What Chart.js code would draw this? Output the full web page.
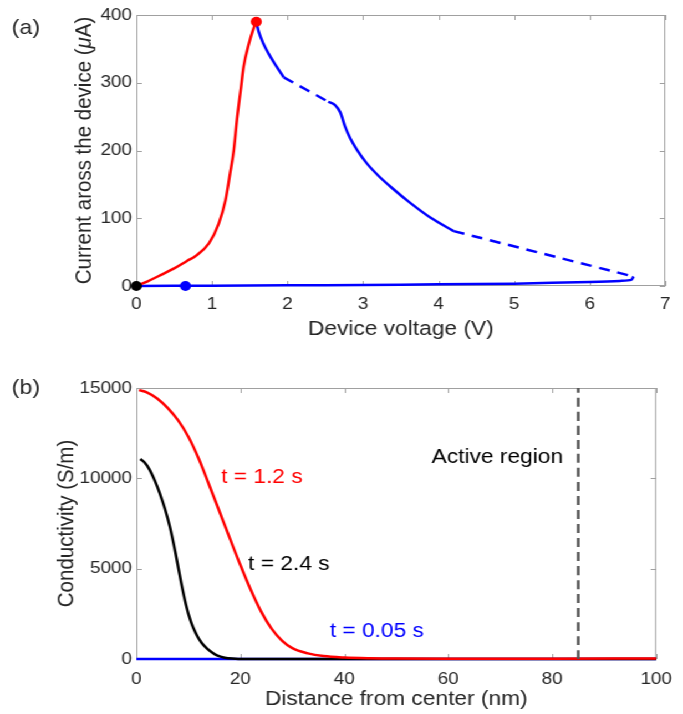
<!DOCTYPE html>
<html>
<head>
<meta charset="utf-8">
<script src="https://cdn.jsdelivr.net/npm/chart.js@4.4.1/dist/chart.umd.min.js"></script>
<style>
  html, body { margin: 0; padding: 0; background: #fff; overflow: hidden; }
  /* the original figure is a bit stretched horizontally */
  #wrap { position: absolute; left: 0; top: 0; width: 616px; height: 714px;
          transform: scaleX(1.1088); transform-origin: 0 0; }
  canvas { position: absolute; left: 0; }
  #chartA { top: 0; }
  #chartB { top: 360px; }
</style>
</head>
<body>
<div id="wrap">
  <canvas id="chartA" width="616" height="360"></canvas>
  <canvas id="chartB" width="616" height="354"></canvas>
</div>
<script>
// ---- (a) current vs voltage ----
const setV = [0, 0.15, 0.32, 0.5, 0.67, 0.78, 0.96, 1.09, 1.18, 1.24, 1.29, 1.33, 1.38, 1.42, 1.49, 1.55, 1.587];
const setI = [0, 7, 16, 26, 37, 44, 63, 92, 127, 166, 201, 245, 289, 324, 358, 380, 390];

const resetV1 = [1.587, 1.62, 1.68, 1.75, 1.82, 1.95];          // solid
const resetI1 = [390, 375, 358, 343, 330, 308];
const resetV2 = [1.95, 2.54];                                    // dashed
const resetI2 = [308, 272];
const resetV3 = [2.54, 2.63, 2.7, 2.76, 2.83, 2.92, 3.05, 3.21, 3.38, 3.62, 3.89, 4.2];  // solid
const resetI3 = [272, 267, 256, 236, 218, 201, 181, 162, 145, 123, 101, 81];
const resetV4 = [4.2, 6.58];                                     // dashed
const resetI4 = [81, 14];
const backV = [6.58, 6.55, 6.4, 6.0, 5.0, 4.0, 3.0, 2.0, 1.0, 0];  // solid, back to zero
const backI = [14, 9, 7.5, 6, 3.5, 2.5, 1.5, 1, 0.5, 0];

const markV = [1.587, 0.65, 0];
const markI = [390, 0, 0];
const markColors = ['#ff0000', '#0000ff', '#000000'];

const ticksVA = [0, 1, 2, 3, 4, 5, 6, 7];
const ticksIA = [0, 100, 200, 300, 400];

// ---- (b) conductivity profiles ----
const distRed = [0.5, 2, 4, 6, 8, 10, 12, 14, 16, 18, 20, 22, 24, 26, 28, 30, 33, 36, 40, 45, 50, 60, 80, 100];
const condRed = [14880, 14760, 14420, 13900, 13220, 12300, 11080, 9630, 8150, 6660, 5200, 3830, 2620, 1680, 1020, 600, 310, 160, 80, 40, 25, 20, 20, 25];
const distBlack = [0.75, 1.5, 2.5, 3.5, 4.5, 5.5, 6.5, 7.5, 8.5, 9.5, 10.5, 11.5, 12.5, 13.5, 14.5, 15.5, 17, 19, 20, 40, 100];
const condBlack = [11070, 10900, 10500, 9900, 9170, 8300, 7250, 5900, 4400, 3050, 2050, 1380, 910, 600, 370, 200, 70, 15, 0, 0, 0];
const distBlue = [0, 100];
const condBlue = [0, 0];
const activeEdge = 85;

const noteText = ['t = 1.2 s', 't = 2.4 s', 't = 0.05 s', 'Active region'];
const noteX = [16.3, 21.5, 37.2, 56.8];
const noteY = [9725, 4926, 1234, 10832];
const noteColors = ['#ff0000', '#000000', '#0000ff', '#000000'];

const ticksDB = [0, 20, 40, 60, 80, 100];
const ticksCB = [0, 5000, 10000, 15000];

const FONT = '"Liberation Sans", Arial, sans-serif';
const GREY = '#a0a0a0';
const TXT = '#262626';

const pts = (xs, ys) => xs.map((x, i) => ({ x: x, y: ys[i] }));

function line(xs, ys, color, dash) {
  return {
    data: pts(xs, ys), showLine: true, borderColor: color, borderWidth: 2.5,
    borderDash: dash || [], pointRadius: 0, tension: 0.25, fill: false, clip: false
  };
}
// smooth curve for series whose x keeps increasing
const smooth = ds => Object.assign(ds, { cubicInterpolationMode: 'monotone' });

// box, inward ticks, titles and panel letter
function framePlugin(o) {
  return {
    id: 'frame',
    beforeDatasetsDraw(chart) {
      const { ctx, chartArea: a, scales: { x, y } } = chart;
      ctx.save();
      ctx.strokeStyle = GREY;
      ctx.lineWidth = 1;
      ctx.strokeRect(a.left + 0.5, a.top + 0.5, a.right - a.left - 1, a.bottom - a.top - 1);
      ctx.beginPath();
      x.ticks.forEach(t => {
        const p = Math.round(x.getPixelForValue(t.value)) + 0.5;
        ctx.moveTo(p, a.bottom); ctx.lineTo(p, a.bottom - 5);
        ctx.moveTo(p, a.top); ctx.lineTo(p, a.top + 5);
      });
      y.ticks.forEach(t => {
        const p = Math.round(y.getPixelForValue(t.value)) + 0.5;
        ctx.moveTo(a.left, p); ctx.lineTo(a.left + 5, p);
        ctx.moveTo(a.right, p); ctx.lineTo(a.right - 5, p);
      });
      ctx.stroke();
      ctx.restore();
    },
    afterDraw(chart) {
      const { ctx, chartArea: a } = chart;
      ctx.save();
      ctx.fillStyle = TXT;
      ctx.textBaseline = 'alphabetic';
      ctx.textAlign = 'left';
      ctx.font = '21px ' + FONT;
      ctx.fillText(o.panel, 10.5, 33.5);

      ctx.font = '20.5px ' + FONT;
      ctx.textAlign = 'center';
      ctx.fillText(o.xTitle, (a.left + a.right) / 2, o.xTitleY);

      // y title, may contain an italic part
      ctx.translate(o.yTitleX, (a.top + a.bottom) / 2);
      ctx.rotate(-Math.PI / 2);
      ctx.textBaseline = 'middle';
      ctx.textAlign = 'left';
      const fontOf = p => (p.italic ? 'italic ' : '') + '20.5px ' + FONT;
      let total = 0;
      o.yTitle.forEach(p => { ctx.font = fontOf(p); total += ctx.measureText(p.t).width; });
      let cx = -total / 2;
      o.yTitle.forEach(p => {
        ctx.font = fontOf(p);
        ctx.fillText(p.t, cx, 0);
        cx += ctx.measureText(p.t).width;
      });
      ctx.restore();
    }
  };
}

function axes(xMin, xMax, xTicks, yMin, yMax, yTicks, xHeight, xPad) {
  const tickFont = { family: FONT, size: 17 };
  return {
    x: {
      type: 'linear', min: xMin, max: xMax,
      grid: { display: false, drawTicks: false }, border: { display: false },
      afterBuildTicks: s => { s.ticks = xTicks.map(v => ({ value: v })); },
      afterFit: s => { s.height = xHeight; },
      ticks: { font: tickFont, color: TXT, padding: xPad, maxRotation: 0, callback: v => String(v) }
    },
    y: {
      type: 'linear', min: yMin, max: yMax,
      grid: { display: false, drawTicks: false }, border: { display: false },
      afterBuildTicks: s => { s.ticks = yTicks.map(v => ({ value: v })); },
      afterFit: s => { s.width = 123; },
      ticks: { font: tickFont, color: TXT, padding: 4, callback: v => String(v) }
    }
  };
}

const common = {
  responsive: false, animation: false, devicePixelRatio: 1,
  plugins: { legend: { display: false }, tooltip: { enabled: false } }
};

// (a)
new Chart(document.getElementById('chartA'), {
  type: 'scatter',
  data: {
    datasets: [
      {
        data: pts(markV, markI), pointRadius: 5, pointBackgroundColor: markColors,
        pointBorderWidth: 0, showLine: false, clip: false
      },
      smooth(line(setV, setI, '#ff0000')),
      smooth(line(resetV1, resetI1, '#0000ff')),
      line(resetV2, resetI2, '#0000ff', [10, 7]),
      smooth(line(resetV3, resetI3, '#0000ff')),
      line(resetV4, resetI4, '#0000ff', [10, 7]),
      line(backV, backI, '#0000ff')
    ]
  },
  options: Object.assign({}, common, {
    layout: { padding: { top: 15, right: 16, left: 0, bottom: 0 } },
    scales: axes(0, 7, ticksVA, 0, 400, ticksIA, 74, 8)
  }),
  plugins: [framePlugin({
    panel: '(a)', xTitle: 'Device voltage (V)', xTitleY: 335.4, yTitleX: 76,
    yTitle: [{ t: 'Current aross the device (' }, { t: 'μ', italic: true }, { t: 'A)' }]
  })]
});

// (b)
const notesPlugin = {
  id: 'notes',
  afterDatasetsDraw(chart) {
    const { ctx, scales: { x, y } } = chart;
    ctx.save();
    ctx.font = '20.5px ' + FONT;
    ctx.textAlign = 'left';
    ctx.textBaseline = 'alphabetic';
    noteText.forEach((t, i) => {
      ctx.fillStyle = noteColors[i];
      ctx.fillText(t, x.getPixelForValue(noteX[i]), y.getPixelForValue(noteY[i]));
    });
    ctx.restore();
  }
};

new Chart(document.getElementById('chartB'), {
  type: 'scatter',
  data: {
    datasets: [
      line([activeEdge, activeEdge], [0, 15000], '#555555', [9, 5]),
      smooth(line(distRed, condRed, '#ff0000')),
      smooth(line(distBlack, condBlack, '#000000')),
      line(distBlue, condBlue, '#0000ff')
    ]
  },
  options: Object.assign({}, common, {
    layout: { padding: { top: 28, right: 16, left: 0, bottom: 0 } },
    scales: axes(0, 100, ticksDB, 0, 15000, ticksCB, 55, 10)
  }),
  plugins: [notesPlugin, framePlugin({
    panel: '(b)', xTitle: 'Distance from center (nm)', xTitleY: 344.7, yTitleX: 60.4,
    yTitle: [{ t: 'Conductivity (S/m)' }]
  })]
});
</script>
</body>
</html>
